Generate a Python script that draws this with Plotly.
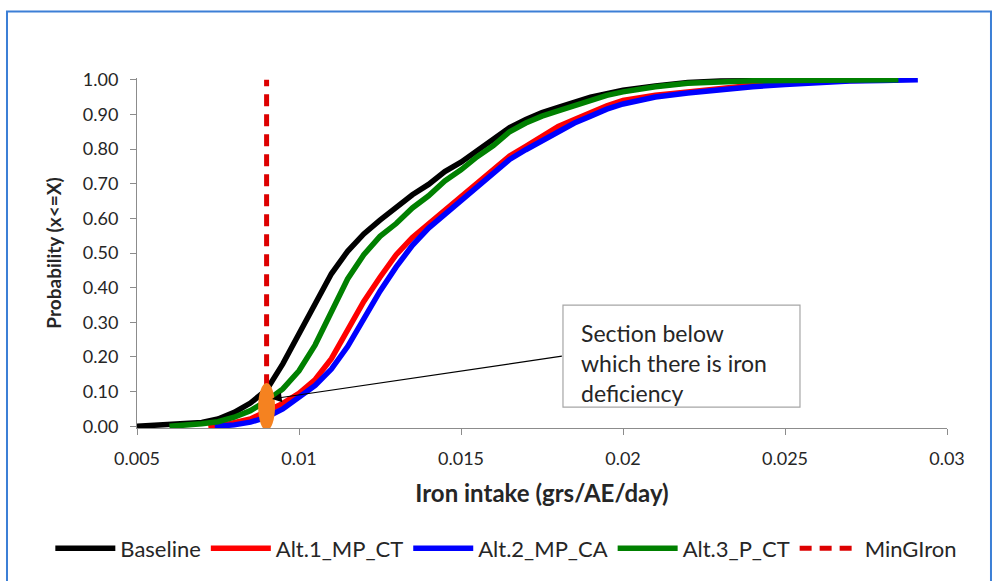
import plotly.graph_objects as go

# ---------------- data ----------------
base_x = [0.005, 0.0059, 0.0065, 0.007, 0.0075, 0.008, 0.0085, 0.009, 0.0095, 0.010, 0.0105,
          0.011, 0.0115, 0.012, 0.0125, 0.013, 0.0135, 0.014, 0.0145, 0.015, 0.0155, 0.016,
          0.0165, 0.017, 0.0175, 0.018, 0.0185, 0.019, 0.0195, 0.020, 0.021, 0.022, 0.023,
          0.024, 0.025, 0.0265]
base_p = [0.0, 0.004, 0.007, 0.011, 0.021, 0.040, 0.067, 0.105, 0.180, 0.265, 0.350,
          0.440, 0.505, 0.555, 0.595, 0.630, 0.668, 0.698, 0.735, 0.762, 0.795, 0.830,
          0.862, 0.885, 0.905, 0.920, 0.935, 0.950, 0.960, 0.970, 0.982, 0.992, 0.996,
          0.998, 0.999, 1.0]

alt1_x = [0.0072, 0.0078, 0.0085, 0.009, 0.0095, 0.010, 0.0105, 0.011, 0.0115, 0.012, 0.0125,
          0.013, 0.0135, 0.014, 0.0145, 0.015, 0.0155, 0.016, 0.0165, 0.017, 0.0175, 0.018,
          0.0185, 0.019, 0.0195, 0.020, 0.021, 0.022, 0.023, 0.024, 0.025, 0.026, 0.027, 0.0285]
alt1_p = [0.0, 0.006, 0.021, 0.045, 0.066, 0.095, 0.135, 0.195, 0.275, 0.360, 0.430,
          0.495, 0.545, 0.585, 0.625, 0.660, 0.705, 0.740, 0.780, 0.808, 0.838, 0.865,
          0.885, 0.905, 0.925, 0.940, 0.955, 0.965, 0.975, 0.984, 0.990, 0.995, 0.998, 1.0]

alt2_x = [0.0074, 0.008, 0.0085, 0.009, 0.0095, 0.010, 0.0105, 0.011, 0.0115, 0.012, 0.0125,
          0.013, 0.0135, 0.014, 0.0145, 0.015, 0.0155, 0.016, 0.0165, 0.017, 0.0175, 0.018,
          0.0185, 0.019, 0.0195, 0.020, 0.021, 0.022, 0.023, 0.024, 0.025, 0.026, 0.027,
          0.028, 0.0291]
alt2_p = [0.0, 0.004, 0.012, 0.026, 0.050, 0.082, 0.118, 0.165, 0.230, 0.310, 0.390,
          0.460, 0.522, 0.572, 0.612, 0.648, 0.692, 0.730, 0.770, 0.798, 0.825, 0.850,
          0.875, 0.895, 0.915, 0.930, 0.950, 0.962, 0.972, 0.980, 0.986, 0.992, 0.996,
          0.998, 1.0]

alt3_x = [0.006, 0.0065, 0.007, 0.0075, 0.008, 0.0085, 0.009, 0.0095, 0.010, 0.0105, 0.011,
          0.0115, 0.012, 0.0125, 0.013, 0.0135, 0.014, 0.0145, 0.015, 0.0155, 0.016, 0.0165,
          0.017, 0.0175, 0.018, 0.0185, 0.019, 0.0195, 0.020, 0.021, 0.022, 0.023, 0.024,
          0.025, 0.0285]
alt3_p = [0.0, 0.003, 0.007, 0.013, 0.026, 0.045, 0.073, 0.108, 0.160, 0.235, 0.330,
          0.425, 0.495, 0.548, 0.585, 0.630, 0.665, 0.708, 0.740, 0.778, 0.810, 0.850,
          0.875, 0.895, 0.910, 0.925, 0.940, 0.955, 0.965, 0.980, 0.990, 0.995, 0.997,
          0.998, 1.0]

min_iron_x = [0.009, 0.009]
min_iron_p = [0.0, 1.0]

x_tickvals = [0.005, 0.01, 0.015, 0.02, 0.025, 0.03]
x_ticktext = ["0.005", "0.01", "0.015", "0.02", "0.025", "0.03"]
y_tickvals = [0.0, 0.1, 0.2, 0.3, 0.4, 0.5, 0.6, 0.7, 0.8, 0.9, 1.0]
y_ticktext = ["0.00", "0.10", "0.20", "0.30", "0.40", "0.50", "0.60", "0.70", "0.80", "0.90", "1.00"]

series = [
    ("Baseline", base_x, base_p, "#000000"),
    ("Alt.1_MP_CT", alt1_x, alt1_p, "#FF0000"),
    ("Alt.2_MP_CA", alt2_x, alt2_p, "#0000FF"),
    ("Alt.3_P_CT", alt3_x, alt3_p, "#008000"),
]

FONT = "Lato"
TXT = "#262626"
AX = "#8C8C8C"

fig = go.Figure()
for name, xs, ps, col in series:
    fig.add_trace(go.Scatter(x=xs, y=ps, mode="lines", name=name,
                             line=dict(color=col, width=5.5)))
fig.add_trace(go.Scatter(x=min_iron_x, y=min_iron_p, mode="lines", name="MinGIron",
                         line=dict(color="#DD0000", width=5, dash="12px,8px")))

# orange ellipse marking the deficiency section
fig.add_shape(type="circle", xref="x", yref="y",
              x0=0.009 - 0.00026, x1=0.009 + 0.00026, y0=-0.012, y1=0.125,
              fillcolor="#F58220", line=dict(color="#F58220", width=0), layer="above")

# text box
fig.add_shape(type="rect", xref="paper", yref="paper",
              x0=0.5259, x1=0.8185, y0=0.0595, y1=0.3513,
              fillcolor="white", line=dict(color="#A6A6A6", width=1.2), layer="above")
fig.add_annotation(xref="paper", yref="paper", x=0.5457, y=0.1845,
                   xanchor="left", yanchor="middle", align="left", showarrow=False,
                   text="Section below<br>which there is iron<br>deficiency",
                   font=dict(family=FONT, size=23, color=TXT))
# arrow
fig.add_annotation(xref="x", yref="y", axref="x", ayref="y",
                   x=0.00917, y=0.079, ax=0.01816, ay=0.203, text="",
                   showarrow=True, arrowhead=2, arrowsize=1.6, arrowwidth=1.2,
                   arrowcolor="#000000", standoff=0)

# outer blue frame
fig.add_shape(type="rect", xref="paper", yref="paper",
              x0=-0.1605, x1=1.0543, y0=-0.6, y1=1.1898,
              line=dict(color="#3C7FD6", width=2), fillcolor="rgba(0,0,0,0)", layer="below")

fig.update_layout(
    width=996, height=581,
    margin=dict(l=137, r=49, t=78, b=150),
    paper_bgcolor="white", plot_bgcolor="white",
    font=dict(family=FONT, color=TXT),
    xaxis=dict(range=[0.005, 0.03], tickvals=x_tickvals, ticktext=x_ticktext,
               showline=True, linecolor=AX, linewidth=1, ticks="outside", ticklen=6,
               tickcolor=AX, showgrid=False, zeroline=False,
               tickfont=dict(family=FONT, size=18, color=TXT), ticklabelstandoff=8,
               title=dict(text="<b>Iron intake (grs/AE/day)</b>", standoff=17,
                          font=dict(family=FONT, size=24, color=TXT))),
    yaxis=dict(range=[-0.005, 1.005], tickvals=y_tickvals, ticktext=y_ticktext,
               showline=True, linecolor=AX, linewidth=1, ticks="outside", ticklen=6,
               tickcolor=AX, showgrid=False, zeroline=False,
               tickfont=dict(family=FONT, size=18, color=TXT), ticklabelstandoff=8,
               title=dict(text="<b>Probability (x<=X)</b>", standoff=16,
                          font=dict(family=FONT, size=19, color=TXT))),
    legend=dict(orientation="h", x=-0.107, xanchor="left", y=-0.344, yanchor="middle",
                font=dict(family=FONT, size=22, color=TXT), itemwidth=60,
                bgcolor="rgba(0,0,0,0)"),
    showlegend=True,
)

fig.write_html("out.html")
